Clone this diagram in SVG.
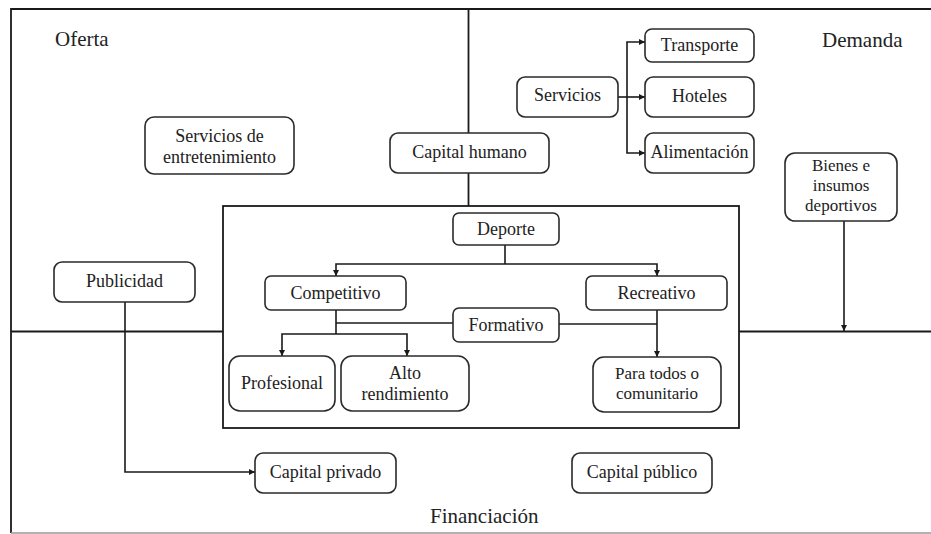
<svg xmlns="http://www.w3.org/2000/svg" width="931" height="534" viewBox="0 0 931 534">
<defs>
<marker id="arr" viewBox="0 0 10 10" refX="10" refY="5" markerWidth="6" markerHeight="6" markerUnits="userSpaceOnUse" orient="auto">
<path d="M0,0 L10,5 L0,10 z" fill="#1a1a1a"/>
</marker>
</defs>
<style>
.frame{fill:none;stroke:#1a1a1a;stroke-width:1.8}
.line{fill:none;stroke:#1a1a1a;stroke-width:1.6}
.box{fill:#ffffff;stroke:#2a2a2a;stroke-width:1.6}
text{font-family:'Liberation Serif','DejaVu Serif',serif;fill:#222}
.t{font-size:18px;text-anchor:middle}
.s{font-size:17px;text-anchor:middle}
.lab{font-size:21px}
</style>
<rect width="931" height="534" fill="#ffffff"/>
<g id="frame">
<path class="frame" d="M11,533 L11,9 L935,9"/>
<path d="M11,533 L935,533" stroke="#999" stroke-width="1.5" fill="none"/>
<path class="frame" d="M468.5,9 L468.5,206"/>
<path class="frame" d="M11,331.5 L223,331.5 M739,331.5 L935,331.5"/>
<rect class="frame" x="223" y="206" width="516" height="222"/>
<text class="lab" x="55" y="46">Oferta</text>
<text class="lab" x="822" y="47">Demanda</text>
<text class="lab" x="430" y="523">Financiación</text>
</g>
<g id="connectors">
<path class="line" d="M618,97 L645,97" marker-end="url(#arr)"/>
<path class="line" d="M627,97 L627,42 L645,42" marker-end="url(#arr)"/>
<path class="line" d="M627,97 L627,153 L645,153" marker-end="url(#arr)"/>
<path class="line" d="M844,221 L844,331" marker-end="url(#arr)"/>
<path class="line" d="M505,245 L505,264"/>
<path class="line" d="M505,264 L336,264 L336,276" marker-end="url(#arr)"/>
<path class="line" d="M505,264 L657,264 L657,276" marker-end="url(#arr)"/>
<path class="line" d="M336,310 L336,334"/>
<path class="line" d="M453,323 L336,323"/>
<path class="line" d="M336,334 L282,334 L282,356" marker-end="url(#arr)"/>
<path class="line" d="M336,334 L407,334 L407,356" marker-end="url(#arr)"/>
<path class="line" d="M559,324 L657,324"/>
<path class="line" d="M657,310 L657,357" marker-end="url(#arr)"/>
<path class="line" d="M125,302 L125,472 L255,472" marker-end="url(#arr)"/>
</g>
<g id="servicios-entretenimiento">
<rect class="box" x="145" y="117" width="149" height="57" rx="9"/>
<text class="t" x="219.5" y="142">Servicios de</text>
<text class="t" x="219.5" y="163">entretenimiento</text>
</g>
<g id="capital-humano">
<rect class="box" x="390" y="133" width="159" height="40" rx="8"/>
<text class="t" x="469.5" y="158">Capital humano</text>
</g>
<g id="servicios">
<rect class="box" x="517" y="77" width="101" height="40" rx="8"/>
<text class="t" x="567.5" y="101">Servicios</text>
</g>
<g id="transporte">
<rect class="box" x="645" y="29" width="109" height="33" rx="7"/>
<text class="t" x="699.5" y="51">Transporte</text>
</g>
<g id="hoteles">
<rect class="box" x="645" y="77" width="109" height="40" rx="8"/>
<text class="t" x="699.5" y="102">Hoteles</text>
</g>
<g id="alimentacion">
<rect class="box" x="645" y="133" width="109" height="40" rx="8"/>
<text class="t" x="699.5" y="158">Alimentación</text>
</g>
<g id="bienes">
<rect class="box" x="785" y="153" width="112" height="68" rx="10"/>
<text class="s" x="841" y="171">Bienes e</text>
<text class="s" x="841" y="191">insumos</text>
<text class="s" x="841" y="211">deportivos</text>
</g>
<g id="publicidad">
<rect class="box" x="54" y="262" width="141" height="40" rx="8"/>
<text class="t" x="124.5" y="287">Publicidad</text>
</g>
<g id="deporte">
<rect class="box" x="453" y="213" width="106" height="32" rx="6"/>
<text class="t" x="506" y="235">Deporte</text>
</g>
<g id="competitivo">
<rect class="box" x="265" y="276" width="141" height="34" rx="6"/>
<text class="t" x="335.5" y="299">Competitivo</text>
</g>
<g id="recreativo">
<rect class="box" x="586" y="276" width="141" height="34" rx="6"/>
<text class="t" x="656.5" y="299">Recreativo</text>
</g>
<g id="formativo">
<rect class="box" x="453" y="308" width="106" height="34" rx="6"/>
<text class="t" x="506" y="331">Formativo</text>
</g>
<g id="profesional">
<rect class="box" x="229" y="356" width="106" height="55" rx="11"/>
<text class="t" x="282" y="389">Profesional</text>
</g>
<g id="alto-rendimiento">
<rect class="box" x="341" y="356" width="128" height="55" rx="11"/>
<text class="t" x="405" y="379">Alto</text>
<text class="t" x="405" y="400">rendimiento</text>
</g>
<g id="para-todos">
<rect class="box" x="593" y="357" width="128" height="55" rx="11"/>
<text class="s" x="657" y="379">Para todos o</text>
<text class="s" x="657" y="399">comunitario</text>
</g>
<g id="capital-privado">
<rect class="box" x="255" y="453" width="141" height="40" rx="8"/>
<text class="t" x="325.5" y="478">Capital privado</text>
</g>
<g id="capital-publico">
<rect class="box" x="572" y="453" width="140" height="40" rx="8"/>
<text class="t" x="642" y="478">Capital público</text>
</g>
</svg>
